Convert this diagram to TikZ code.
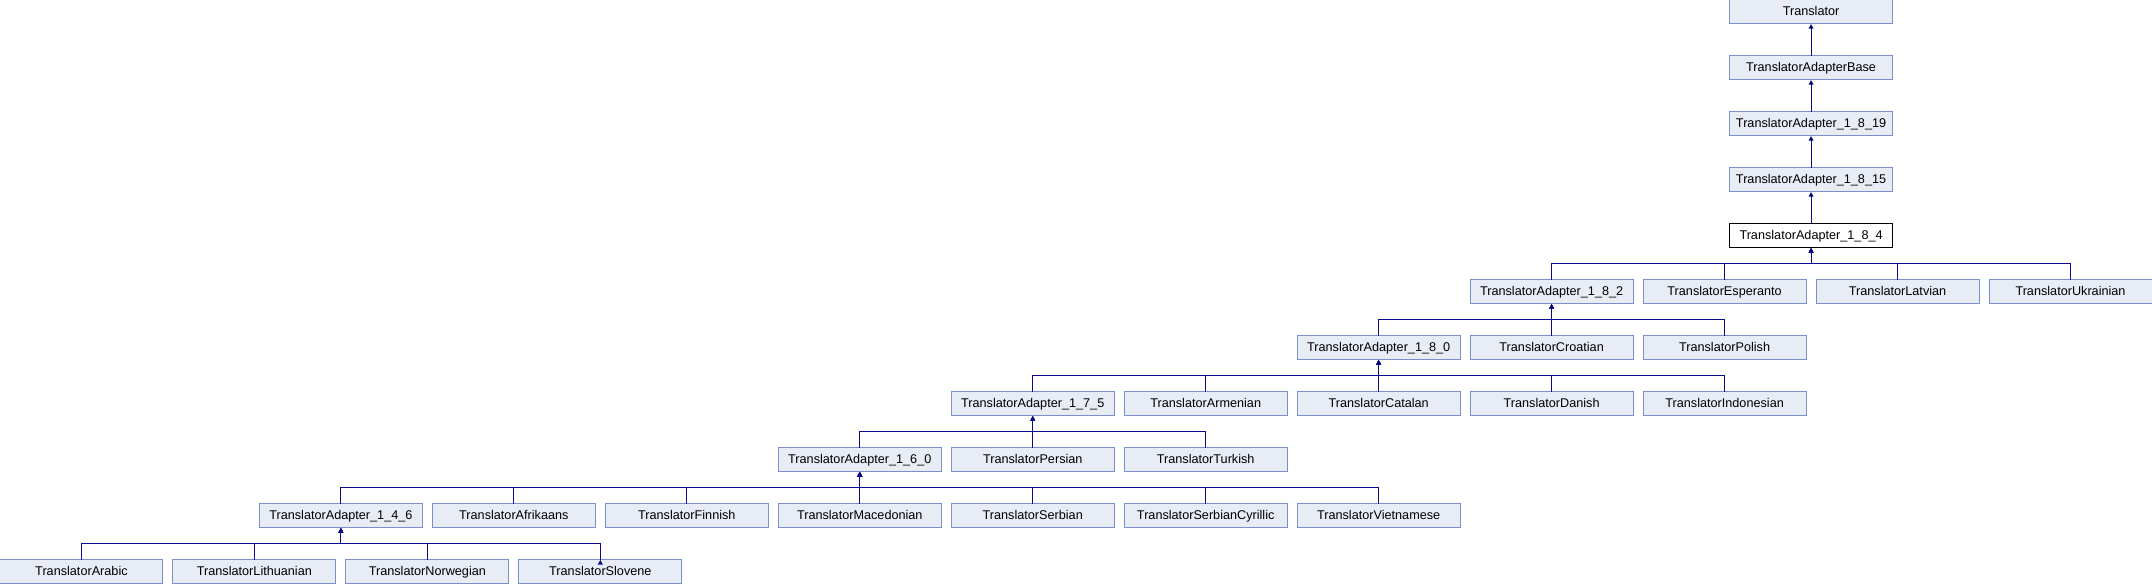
\documentclass[tikz,border=0pt]{standalone}
\usepackage{fontspec}
\setmainfont{Liberation Sans}
\usepackage{tikz}
\usetikzlibrary{positioning,arrows.meta}

\definecolor{clsfill}{HTML}{E8ECF5}
\definecolor{clsline}{HTML}{7B8FCB}
\definecolor{edgeblue}{HTML}{0A0A8C}

\begin{document}
\begin{tikzpicture}[node distance=24pt and 7.5pt,
  cls/.style={draw=clsline,fill=clsfill,line width=0.75pt,minimum width=122.25pt,minimum height=18pt,
              inner sep=0pt,outer sep=0pt,text height=7pt,text depth=2pt,font=\fontsize{9.5}{11}\selectfont},
  cur/.style={cls,draw=black,fill=white},
  inh/.style={draw=edgeblue,line width=0.8pt,-{Triangle[length=3.5pt,width=3.5pt]},
              to path={(\tikztostart) -- ++(0,12pt) -| (\tikztotarget)}}]
\useasboundingbox (-1358.625pt,9pt) rectangle (255.75pt,-429pt);
\node[cls]             (tr)    {Translator};
\node[cls,below=of tr]    (tab)   {TranslatorAdapterBase};
\node[cls,below=of tab]   (a1819) {TranslatorAdapter\_1\_8\_19};
\node[cls,below=of a1819] (a1815) {TranslatorAdapter\_1\_8\_15};
\node[cur,below=of a1815] (a184)  {TranslatorAdapter\_1\_8\_4};
%
\node[cls,below=of a184,xshift=-194.625pt] (a182) {TranslatorAdapter\_1\_8\_2};
\node[cls,right=of a182] (epo) {TranslatorEsperanto};
\node[cls,right=of epo]  (lav) {TranslatorLatvian};
\node[cls,right=of lav]  (ukr) {TranslatorUkrainian};
%
\node[cls,below=of a182] (hrv)  {TranslatorCroatian};
\node[cls,left=of hrv]   (a180) {TranslatorAdapter\_1\_8\_0};
\node[cls,right=of hrv]  (pol)  {TranslatorPolish};
%
\node[cls,below=of hrv]  (dan)  {TranslatorDanish};
\node[cls,left=of dan]   (cat)  {TranslatorCatalan};
\node[cls,left=of cat]   (arm)  {TranslatorArmenian};
\node[cls,left=of arm]   (a175) {TranslatorAdapter\_1\_7\_5};
\node[cls,right=of dan]  (ind)  {TranslatorIndonesian};
%
\node[cls,below=of a175] (per)  {TranslatorPersian};
\node[cls,left=of per]   (a160) {TranslatorAdapter\_1\_6\_0};
\node[cls,right=of per]  (tur)  {TranslatorTurkish};
%
\node[cls,below=of a160] (mkd)  {TranslatorMacedonian};
\node[cls,left=of mkd]   (fin)  {TranslatorFinnish};
\node[cls,left=of fin]   (afr)  {TranslatorAfrikaans};
\node[cls,left=of afr]   (a146) {TranslatorAdapter\_1\_4\_6};
\node[cls,right=of mkd]  (srp)  {TranslatorSerbian};
\node[cls,right=of srp]  (srpc) {TranslatorSerbianCyrillic};
\node[cls,right=of srpc] (vie)  {TranslatorVietnamese};
%
\node[cls,below=of a146,xshift=-64.875pt] (lit) {TranslatorLithuanian};
\node[cls,left=of lit]   (ara)  {TranslatorArabic};
\node[cls,right=of lit]  (nor)  {TranslatorNorwegian};
\node[cls,right=of nor]  (slo)  {TranslatorSlovene};
%
\path[inh]
	(tab.north)   edge (tr.south)
	(a1819.north) edge (tab.south)
	(a1815.north) edge (a1819.south)
	(a184.north)  edge (a1815.south)
%
	(a182.north) edge (a184.south)
	(epo.north)  edge (a184.south)
	(lav.north)  edge (a184.south)
	(ukr.north)  edge (a184.south)
%
	(a180.north) edge (a182.south)
	(hrv.north)  edge (a182.south)
	(pol.north)  edge (a182.south)
%
	(a175.north) edge (a180.south)
	(arm.north)  edge (a180.south)
	(cat.north)  edge (a180.south)
	(dan.north)  edge (a180.south)
	(ind.north)  edge (a180.south)
%
	(a160.north) edge (a175.south)
	(per.north)  edge (a175.south)
	(tur.north)  edge (a175.south)
%
	(a146.north) edge (a160.south)
	(afr.north)  edge (a160.south)
	(fin.north)  edge (a160.south)
	(mkd.north)  edge (a160.south)
	(srp.north)  edge (a160.south)
	(srpc.north) edge (a160.south)
	(vie.north)  edge (a160.south)
%
	(ara.north) edge (a146.south)
	(lit.north) edge (a146.south)
	(nor.north) edge (a146.south)
	(slo.north) edge (a146.south)
; %-draw-%
\end{tikzpicture}
\end{document}
